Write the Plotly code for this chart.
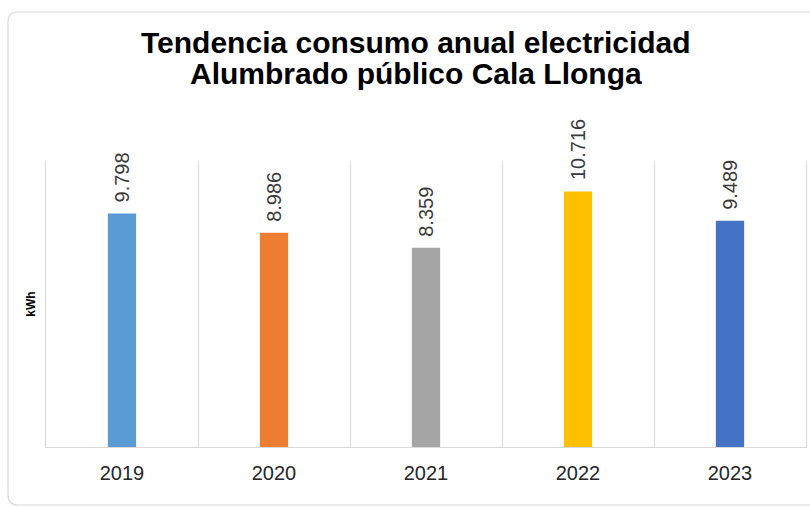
import plotly.graph_objects as go

years = ["2019", "2020", "2021", "2022", "2023"]
consumo_kwh = [9798, 8986, 8359, 10716, 9489]
etiquetas = ["9.798", "8.986", "8.359", "10.716", "9.489"]
colores = ["#5B9BD5", "#ED7D31", "#A5A5A5", "#FFC000", "#4472C4"]
titulo = ["Tendencia consumo anual electricidad", "Alumbrado público Cala Llonga"]

FONT = "Arial, Liberation Sans, sans-serif"

# plot area in pixels
PL, PR, PT, PB = 46, 806, 161, 447


def px_x(p):
    return (p - PL) / (PR - PL)


def px_y(p):
    return (PB - p) / (PB - PT)


fig = go.Figure()
fig.add_trace(go.Bar(
    x=years, y=consumo_kwh, marker=dict(color=colores, line=dict(width=0)),
    showlegend=False, hoverinfo="x+y",
))

for i, (v, t) in enumerate(zip(consumo_kwh, etiquetas)):
    fig.add_annotation(
        x=i, y=v, xref="x", yref="y", text=t, textangle=-90,
        showarrow=False, xanchor="center", yanchor="bottom", yshift=9,
        font=dict(family=FONT, size=20, color="#3A3A3A"),
    )

# title lines
for line, cy in zip(titulo, [42, 73.5]):
    fig.add_annotation(
        x=px_x(416), y=px_y(cy), xref="paper", yref="paper", text=f"<b>{line}</b>",
        showarrow=False, xanchor="center", yanchor="middle",
        font=dict(family=FONT, size=30, color="#000000"),
    )

# rounded chart border, open on the right (it continues past the window edge)
L, R, T, B, r = 8, 810, 12, 505, 10
path = (
    f"M {px_x(R)},{px_y(T)} L {px_x(L+r)},{px_y(T)} "
    f"Q {px_x(L)},{px_y(T)} {px_x(L)},{px_y(T+r)} L {px_x(L)},{px_y(B-r)} "
    f"Q {px_x(L)},{px_y(B)} {px_x(L+r)},{px_y(B)} L {px_x(R)},{px_y(B)}"
)
fig.add_shape(type="path", xref="paper", yref="paper", path=path,
              line=dict(color="#D9D9D9", width=1.2), layer="below")

fig.update_layout(
    width=810, height=507,
    margin=dict(l=PL, r=810 - PR, t=PT, b=507 - PB, autoexpand=False),
    paper_bgcolor="white", plot_bgcolor="white",
    bargap=0.814,
    font=dict(family=FONT),
    xaxis=dict(
        type="category", categoryorder="array", categoryarray=years,
        range=[-0.5, len(years) - 0.5],
        tickson="boundaries", ticks="", showgrid=True,
        gridcolor="#D9D9D9", gridwidth=1, showline=True, linecolor="#D9D9D9",
        linewidth=1, tickangle=0, ticklabelstandoff=8,
        tickfont=dict(family=FONT, size=20, color="#262626"),
        fixedrange=True,
    ),
    yaxis=dict(
        range=[0, 12000], showticklabels=False, showgrid=False, zeroline=False,
        showline=True, mirror=True, linecolor="#D9D9D9", linewidth=1, ticks="",
        title=dict(text="<b>kWh</b>", standoff=6,
                   font=dict(family=FONT, size=12, color="#000000")),
        fixedrange=True,
    ),
)

fig.write_html(
    "out.html",
    config={"displayModeBar": False},
    post_script="document.body.style.margin='0';document.body.style.overflow='hidden';",
)
